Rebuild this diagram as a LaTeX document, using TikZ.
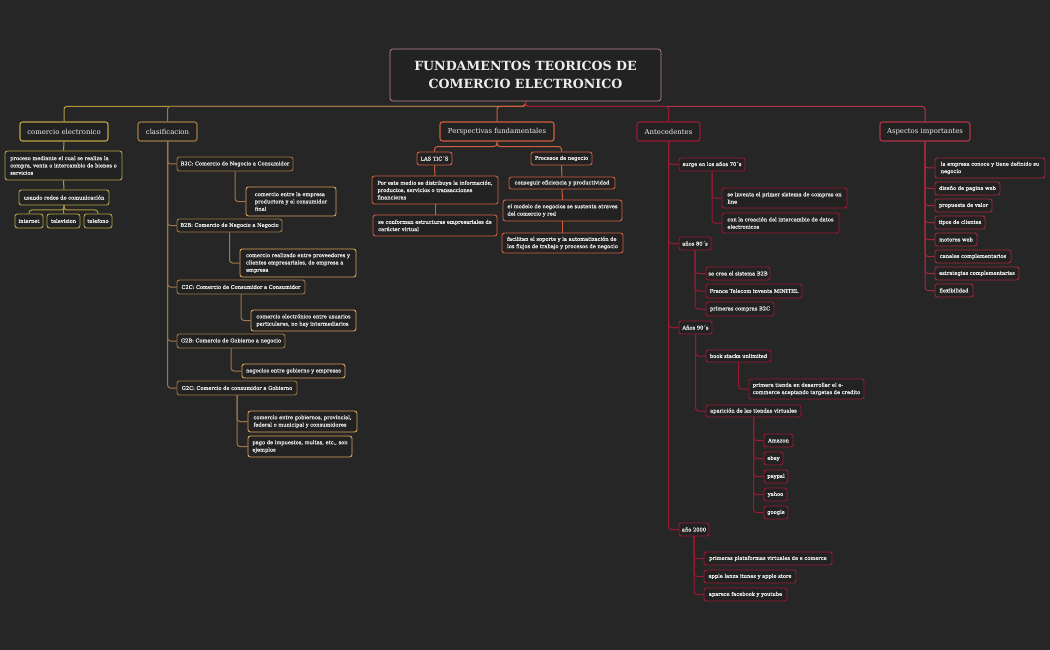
\documentclass[tikz,border=0pt]{standalone}
\usepackage{fontspec}
\setmainfont{DejaVu Serif}
\newfontfamily\heavyserif[FakeBold=0.45]{DejaVu Serif}
\definecolor{bgc}{HTML}{262626}
\definecolor{boxfill}{HTML}{222222}
\definecolor{txt}{HTML}{EEEEEE}
\definecolor{rootc}{HTML}{C08890}
\definecolor{cec}{HTML}{B8A445}
\definecolor{cecon}{HTML}{B09A3C}
\definecolor{clc}{HTML}{A07848}
\definecolor{clcc}{HTML}{D8A458}
\definecolor{pfc}{HTML}{D06040}
\definecolor{anc}{HTML}{9A1A34}
\definecolor{asc}{HTML}{B03545}
\definecolor{ascc}{HTML}{A0283A}
\newcommand\MMbox[7]{%
  \pgfmathsetmacro\mmw{#4-#2}%
  \pgfmathsetmacro\mmh{#5-#3}%
  \node[#6, minimum width=\mmw pt, minimum height=\mmh pt] (#1) at ({(#2+#4)/2},{(#3+#5)/2}) {#7};}
\tikzset{
  basebox/.style={fill=boxfill, text=txt, rounded corners=2.5pt, inner sep=1pt, align=left},
  sm/.style={basebox, line width=0.9pt, font=\heavyserif\fontsize{5.15}{7.3}\selectfont},
  lone/.style={basebox, line width=1.1pt, font=\fontsize{6.9}{8.5}\selectfont},
  rootst/.style={basebox, draw=rootc, line width=0.7pt, align=center, rounded corners=3pt, font=\bfseries\fontsize{12.6}{18}\selectfont},
  con/.style={line width=1pt, rounded corners=3pt},
}
\begin{document}
\begin{tikzpicture}[x=1pt,y=-1pt]
\fill[bgc] (0,0) rectangle (1050,650);
\useasboundingbox (0,0) rectangle (1050,650);
% root
\MMbox{root}{390}{49}{661}{101}{rootst}{FUNDAMENTOS TEORICOS DE\\COMERCIO ELECTRONICO}
% level 1
\MMbox{ce}{20}{122}{108}{141}{lone,draw=cec}{comercio electronico}
\MMbox{cl}{138}{122}{197}{141}{lone,draw=clc}{clasificacion}
\MMbox{pf}{440}{122}{554}{141}{lone,draw=pfc}{Perspectivas fundamentales}
\MMbox{an}{637}{122}{700}{141}{lone,draw=anc}{Antecedentes}
\MMbox{as}{880}{122}{970}{141}{lone,draw=asc}{Aspectos importantes}
% bus
\draw[con,cecon] (root.south) -- ++(0,5) -| (ce.north);
\draw[con,clc] (root.south) -- ++(0,5) -| (cl.north);
\draw[con,pfc] (root.south) -- ++(0,5) -| (pf.north);
\draw[con,asc] (root.south) -- ++(0,5) -| (as.north);
\draw[con,anc] (root.south) -- ++(0,5) -| (an.north);
% comercio electronico
\MMbox{ce1}{5}{151}{122}{180}{sm,draw=cec}{proceso mediante el cual se realiza la\\compra, venta o intercambio de bienes o\\servicios}
\MMbox{ce2}{19}{190}{109}{205}{sm,draw=cec}{usando redes de comunicación}
\MMbox{ce3}{15}{214}{43}{228}{sm,draw=cec}{internet}
\MMbox{ce4}{47}{214}{80}{228}{sm,draw=cec}{television}
\MMbox{ce5}{84}{214}{112}{228}{sm,draw=cec}{telefono}
\draw[con,cecon] (ce.south) -- (ce1.north);
\draw[con,cecon] (ce1.south) -- (ce2.north);
\draw[con,cecon] (ce2.south) -- ++(0,4.5) -| (ce3.north);
\draw[con,cecon] (ce2.south) -- ++(0,4.5) -| (ce5.north);
\draw[con,cecon] (ce2.south) -- (ce4.north);
% clasificacion
\MMbox{b2c}{177}{157}{293}{171}{sm,draw=clc}{B2C: Comercio de Negocio a Consumidor}
\MMbox{b2cx}{246}{187}{336}{216}{sm,draw=clcc}{comercio entre la empresa\\productora y el consumidor\\final}
\MMbox{b2b}{177}{219}{282}{232}{sm,draw=clc}{B2B: Comercio de Negocio a Negocio}
\MMbox{b2bx}{240}{249}{356}{277}{sm,draw=clcc}{comercio realizado entre proveedores y\\clientes empresariales, de empresa a\\empresa}
\MMbox{c2c}{177}{280}{305}{294}{sm,draw=clc}{C2C: Comercio de Consumidor a Consumidor}
\MMbox{c2cx}{251}{310}{356}{331}{sm,draw=clcc}{comercio electrónico entre usuarios\\particulares, no hay intermediarios}
\MMbox{g2b}{177}{334}{285}{348}{sm,draw=clc}{G2B: Comercio de Gobierno a negocio}
\MMbox{g2bx}{242}{364}{345}{378}{sm,draw=clcc}{negocios entre gobierno y empresas}
\MMbox{g2c}{177}{381}{297}{395}{sm,draw=clc}{G2C: Comercio de consumidor a Gobierno}
\MMbox{g2cx}{248}{411}{357}{432}{sm,draw=clcc}{comercio entre gobiernos, provincial,\\federal o municipal y consumidores}
\MMbox{g2cy}{248}{436}{352}{457}{sm,draw=clcc}{pago de impuestos, multas, etc., son\\ejemplos}
\foreach \c in {b2c,b2b,c2c,g2b,g2c} \draw[con,clc] (cl.south) |- (\c.west);
\draw[con,clc] (b2c.south) |- (b2cx.west);
\draw[con,clc] (b2b.south) |- (b2bx.west);
\draw[con,clc] (c2c.south) |- (c2cx.west);
\draw[con,clc] (g2b.south) |- (g2bx.west);
\draw[con,clc] (g2c.south) |- (g2cx.west);
\draw[con,clc] (g2c.south) |- (g2cy.west);
% perspectivas
\MMbox{tic}{417}{152}{452}{165}{sm,draw=pfc}{LAS TIC´S}
\MMbox{pn}{531}{152}{592}{165}{sm,draw=pfc}{Procesos de negocio}
\MMbox{tic1}{372}{176}{498}{204}{sm,draw=pfc}{Por este medio se distribuye la información,\\productos, servicios o transacciones\\financieras}
\MMbox{tic2}{373}{215}{497}{236}{sm,draw=pfc}{se conforman estructuras empresariales de\\carácter virtual}
\MMbox{pn1}{509}{177}{615}{189}{sm,draw=pfc}{conseguir eficiencia y productividad}
\MMbox{pn2}{503}{200}{622}{221}{sm,draw=pfc}{el modelo de negocios se sustenta atraves\\del comercio y red}
\MMbox{pn3}{502}{233}{623}{253}{sm,draw=pfc}{facilitan el soporte y la automatización de\\los flujos de trabajo y procesos de negocio}
\draw[con,pfc] (pf.south) -- ++(0,5) -| (tic.north);
\draw[con,pfc] (pf.south) -- ++(0,5) -| (pn.north);
\draw[con,pfc] (tic.south) -- (tic1.north);
\draw[con,pfc] (tic1.south) -- (tic2.north);
\draw[con,pfc] (pn.south) -- (pn1.north);
\draw[con,pfc] (pn1.south) -- (pn2.north);
\draw[con,pfc] (pn2.south) -- (pn3.north);
% antecedentes
\MMbox{a70}{679}{158}{745}{171}{sm,draw=anc}{surge en los años 70´s}
\MMbox{a70a}{722}{188}{847}{208}{sm,draw=anc}{se inventa el primer sistema de compras on\\line}
\MMbox{a70b}{722}{213}{839}{233}{sm,draw=anc}{con la creación del intercambio de datos\\electronicos}
\MMbox{a80}{679}{237}{711}{250}{sm,draw=anc}{años 80´s}
\MMbox{a80a}{706}{267}{770}{280}{sm,draw=anc}{se crea el sistema B2B}
\MMbox{a80b}{706}{284}{802}{298}{sm,draw=anc}{France Telecom inventa MINITEL}
\MMbox{a80c}{706}{302}{774}{316}{sm,draw=anc}{primeras compras B2C}
\MMbox{a90}{679}{321}{712}{334}{sm,draw=anc}{Años 90´s}
\MMbox{bs}{706}{350}{771}{362}{sm,draw=anc}{book stacks unlimited}
\MMbox{bsa}{749}{379}{864}{399}{sm,draw=anc}{primera tienda en desarrollar el e-\\commerce aceptando targetas de credito}
\MMbox{tv}{706}{405}{801}{417}{sm,draw=anc}{aparición de las tiendas virtuales}
\MMbox{tv1}{764}{434}{793}{447}{sm,draw=anc}{Amazon}
\MMbox{tv2}{764}{452}{783}{465}{sm,draw=anc}{ebay}
\MMbox{tv3}{764}{470}{788}{483}{sm,draw=anc}{paypal}
\MMbox{tv4}{764}{488}{787}{501}{sm,draw=anc}{yahoo}
\MMbox{tv5}{764}{506}{788}{519}{sm,draw=anc}{google}
\MMbox{a00}{679}{523}{709}{536}{sm,draw=anc}{año 2000}
\MMbox{a00a}{704}{552}{832}{565}{sm,draw=anc}{primeras plataformas virtuales de e comerce}
\MMbox{a00b}{704}{570}{796}{583}{sm,draw=anc}{apple lanza itunes y apple store}
\MMbox{a00c}{704}{588}{787}{601}{sm,draw=anc}{aparece facebook y youtube}
\foreach \c in {a70,a80,a90,a00} \draw[con,anc] (an.south) |- (\c.west);
\foreach \c in {a70a,a70b} \draw[con,anc] (a70.south) |- (\c.west);
\foreach \c in {a80a,a80b,a80c} \draw[con,anc] (a80.south) |- (\c.west);
\foreach \c in {bs,tv} \draw[con,anc] (a90.south) |- (\c.west);
\draw[con,anc] (bs.south) |- (bsa.west);
\foreach \c in {tv1,tv2,tv3,tv4,tv5} \draw[con,anc] (tv.south) |- (\c.west);
\foreach \c in {a00a,a00b,a00c} \draw[con,anc] (a00.south) |- (\c.west);
% aspectos
\MMbox{s1}{935}{158}{1045}{178}{sm,draw=ascc}{la empresa conoce y tiene definido su\\negocio}
\MMbox{s2}{935}{182}{1000}{195}{sm,draw=ascc}{diseño de pagina web}
\MMbox{s3}{935}{199}{992}{212}{sm,draw=ascc}{propuesta de valor}
\MMbox{s4}{935}{216}{985}{229}{sm,draw=ascc}{tipos de clientes}
\MMbox{s5}{935}{233}{977}{246}{sm,draw=ascc}{motores web}
\MMbox{s6}{935}{250}{1011}{263}{sm,draw=ascc}{canales complementarios}
\MMbox{s7}{935}{267}{1019}{280}{sm,draw=ascc}{estrategias complementarias}
\MMbox{s8}{935}{284}{973}{297}{sm,draw=ascc}{flexibilidad}
\foreach \c in {s1,s2,s3,s4,s5,s6,s7,s8} \draw[con,ascc] (as.south) |- (\c.west);
\end{tikzpicture}
\end{document}
